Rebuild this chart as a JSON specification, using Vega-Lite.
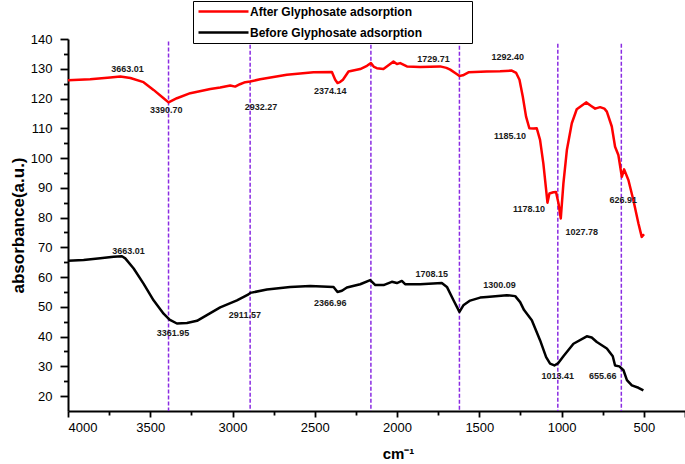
{
  "$schema": "https://vega.github.io/schema/vega-lite/v6.json",
  "width": 617,
  "height": 372,
  "autosize": {"type": "none"},
  "padding": {"left": 68, "top": 39, "right": 0, "bottom": 53},
  "background": "white",
  "config": {
    "view": {"stroke": null},
    "font": "Liberation Sans",
    "axis": {"grid": false, "domainColor": "black", "tickColor": "black", "labelColor": "black", "titleColor": "black", "labelFont": "Liberation Sans", "titleFont": "Liberation Sans"}
  },
  "datasets": {
    "spectra": [
      {"series": "After Glyphosate adsorption", "wn": 4000, "v": 126.1},
      {"series": "After Glyphosate adsorption", "wn": 3865, "v": 126.5},
      {"series": "After Glyphosate adsorption", "wn": 3743, "v": 127.1},
      {"series": "After Glyphosate adsorption", "wn": 3682, "v": 127.4},
      {"series": "After Glyphosate adsorption", "wn": 3621, "v": 126.9},
      {"series": "After Glyphosate adsorption", "wn": 3541, "v": 125.5},
      {"series": "After Glyphosate adsorption", "wn": 3480, "v": 122.9},
      {"series": "After Glyphosate adsorption", "wn": 3419, "v": 120.1},
      {"series": "After Glyphosate adsorption", "wn": 3389, "v": 118.7},
      {"series": "After Glyphosate adsorption", "wn": 3338, "v": 120.1},
      {"series": "After Glyphosate adsorption", "wn": 3257, "v": 121.8},
      {"series": "After Glyphosate adsorption", "wn": 3135, "v": 123.2},
      {"series": "After Glyphosate adsorption", "wn": 3075, "v": 123.7},
      {"series": "After Glyphosate adsorption", "wn": 3014, "v": 124.4},
      {"series": "After Glyphosate adsorption", "wn": 2984, "v": 124.0},
      {"series": "After Glyphosate adsorption", "wn": 2955, "v": 124.8},
      {"series": "After Glyphosate adsorption", "wn": 2923, "v": 125.5},
      {"series": "After Glyphosate adsorption", "wn": 2893, "v": 125.7},
      {"series": "After Glyphosate adsorption", "wn": 2832, "v": 126.5},
      {"series": "After Glyphosate adsorption", "wn": 2670, "v": 128.0},
      {"series": "After Glyphosate adsorption", "wn": 2508, "v": 128.8},
      {"series": "After Glyphosate adsorption", "wn": 2396, "v": 128.9},
      {"series": "After Glyphosate adsorption", "wn": 2376, "v": 126.3},
      {"series": "After Glyphosate adsorption", "wn": 2362, "v": 125.2},
      {"series": "After Glyphosate adsorption", "wn": 2345, "v": 125.6},
      {"series": "After Glyphosate adsorption", "wn": 2329, "v": 126.3},
      {"series": "After Glyphosate adsorption", "wn": 2295, "v": 129.1},
      {"series": "After Glyphosate adsorption", "wn": 2224, "v": 129.9},
      {"series": "After Glyphosate adsorption", "wn": 2183, "v": 131.0},
      {"series": "After Glyphosate adsorption", "wn": 2159, "v": 131.9},
      {"series": "After Glyphosate adsorption", "wn": 2140, "v": 130.6},
      {"series": "After Glyphosate adsorption", "wn": 2123, "v": 130.2},
      {"series": "After Glyphosate adsorption", "wn": 2083, "v": 129.9},
      {"series": "After Glyphosate adsorption", "wn": 2042, "v": 131.6},
      {"series": "After Glyphosate adsorption", "wn": 2022, "v": 132.4},
      {"series": "After Glyphosate adsorption", "wn": 2001, "v": 131.6},
      {"series": "After Glyphosate adsorption", "wn": 1981, "v": 131.9},
      {"series": "After Glyphosate adsorption", "wn": 1940, "v": 130.8},
      {"series": "After Glyphosate adsorption", "wn": 1860, "v": 130.6},
      {"series": "After Glyphosate adsorption", "wn": 1738, "v": 130.8},
      {"series": "After Glyphosate adsorption", "wn": 1700, "v": 130.3},
      {"series": "After Glyphosate adsorption", "wn": 1677, "v": 129.7},
      {"series": "After Glyphosate adsorption", "wn": 1640, "v": 128.3},
      {"series": "After Glyphosate adsorption", "wn": 1621, "v": 127.6},
      {"series": "After Glyphosate adsorption", "wn": 1600, "v": 127.8},
      {"series": "After Glyphosate adsorption", "wn": 1566, "v": 128.8},
      {"series": "After Glyphosate adsorption", "wn": 1455, "v": 129.1},
      {"series": "After Glyphosate adsorption", "wn": 1374, "v": 129.2},
      {"series": "After Glyphosate adsorption", "wn": 1303, "v": 129.4},
      {"series": "After Glyphosate adsorption", "wn": 1276, "v": 128.6},
      {"series": "After Glyphosate adsorption", "wn": 1256, "v": 126.3},
      {"series": "After Glyphosate adsorption", "wn": 1236, "v": 120.7},
      {"series": "After Glyphosate adsorption", "wn": 1216, "v": 113.9},
      {"series": "After Glyphosate adsorption", "wn": 1196, "v": 110.0},
      {"series": "After Glyphosate adsorption", "wn": 1171, "v": 109.9},
      {"series": "After Glyphosate adsorption", "wn": 1151, "v": 110.0},
      {"series": "After Glyphosate adsorption", "wn": 1131, "v": 106.1},
      {"series": "After Glyphosate adsorption", "wn": 1111, "v": 98.2},
      {"series": "After Glyphosate adsorption", "wn": 1094, "v": 89.3},
      {"series": "After Glyphosate adsorption", "wn": 1086, "v": 85.0},
      {"series": "After Glyphosate adsorption", "wn": 1074, "v": 88.1},
      {"series": "After Glyphosate adsorption", "wn": 1050, "v": 88.5},
      {"series": "After Glyphosate adsorption", "wn": 1034, "v": 88.6},
      {"series": "After Glyphosate adsorption", "wn": 1019, "v": 84.8},
      {"series": "After Glyphosate adsorption", "wn": 1005, "v": 79.7},
      {"series": "After Glyphosate adsorption", "wn": 989, "v": 91.5},
      {"series": "After Glyphosate adsorption", "wn": 968, "v": 102.7},
      {"series": "After Glyphosate adsorption", "wn": 938, "v": 111.7},
      {"series": "After Glyphosate adsorption", "wn": 908, "v": 116.4},
      {"series": "After Glyphosate adsorption", "wn": 851, "v": 118.7},
      {"series": "After Glyphosate adsorption", "wn": 820, "v": 117.5},
      {"series": "After Glyphosate adsorption", "wn": 796, "v": 116.6},
      {"series": "After Glyphosate adsorption", "wn": 766, "v": 117.1},
      {"series": "After Glyphosate adsorption", "wn": 740, "v": 116.6},
      {"series": "After Glyphosate adsorption", "wn": 725, "v": 115.6},
      {"series": "After Glyphosate adsorption", "wn": 695, "v": 110.6},
      {"series": "After Glyphosate adsorption", "wn": 675, "v": 103.8},
      {"series": "After Glyphosate adsorption", "wn": 655, "v": 101.0},
      {"series": "After Glyphosate adsorption", "wn": 634, "v": 93.7},
      {"series": "After Glyphosate adsorption", "wn": 620, "v": 96.2},
      {"series": "After Glyphosate adsorption", "wn": 594, "v": 92.6},
      {"series": "After Glyphosate adsorption", "wn": 564, "v": 85.9},
      {"series": "After Glyphosate adsorption", "wn": 533, "v": 78.0},
      {"series": "After Glyphosate adsorption", "wn": 513, "v": 73.5},
      {"series": "After Glyphosate adsorption", "wn": 499, "v": 74.4},
      {"series": "Before Glyphosate adsorption", "wn": 4000, "v": 65.5},
      {"series": "Before Glyphosate adsorption", "wn": 3905, "v": 65.7},
      {"series": "Before Glyphosate adsorption", "wn": 3804, "v": 66.3},
      {"series": "Before Glyphosate adsorption", "wn": 3723, "v": 66.8},
      {"series": "Before Glyphosate adsorption", "wn": 3672, "v": 67.0},
      {"series": "Before Glyphosate adsorption", "wn": 3652, "v": 66.3},
      {"series": "Before Glyphosate adsorption", "wn": 3601, "v": 62.9},
      {"series": "Before Glyphosate adsorption", "wn": 3541, "v": 57.8},
      {"series": "Before Glyphosate adsorption", "wn": 3480, "v": 52.2},
      {"series": "Before Glyphosate adsorption", "wn": 3419, "v": 47.7},
      {"series": "Before Glyphosate adsorption", "wn": 3383, "v": 45.7},
      {"series": "Before Glyphosate adsorption", "wn": 3338, "v": 44.4},
      {"series": "Before Glyphosate adsorption", "wn": 3277, "v": 44.6},
      {"series": "Before Glyphosate adsorption", "wn": 3216, "v": 45.3},
      {"series": "Before Glyphosate adsorption", "wn": 3156, "v": 47.2},
      {"series": "Before Glyphosate adsorption", "wn": 3075, "v": 49.8},
      {"series": "Before Glyphosate adsorption", "wn": 2973, "v": 52.2},
      {"series": "Before Glyphosate adsorption", "wn": 2903, "v": 54.2},
      {"series": "Before Glyphosate adsorption", "wn": 2892, "v": 54.7},
      {"series": "Before Glyphosate adsorption", "wn": 2791, "v": 55.8},
      {"series": "Before Glyphosate adsorption", "wn": 2650, "v": 56.7},
      {"series": "Before Glyphosate adsorption", "wn": 2528, "v": 57.0},
      {"series": "Before Glyphosate adsorption", "wn": 2386, "v": 56.7},
      {"series": "Before Glyphosate adsorption", "wn": 2362, "v": 55.0},
      {"series": "Before Glyphosate adsorption", "wn": 2335, "v": 55.4},
      {"series": "Before Glyphosate adsorption", "wn": 2305, "v": 56.5},
      {"series": "Before Glyphosate adsorption", "wn": 2224, "v": 57.6},
      {"series": "Before Glyphosate adsorption", "wn": 2163, "v": 59.0},
      {"series": "Before Glyphosate adsorption", "wn": 2132, "v": 57.3},
      {"series": "Before Glyphosate adsorption", "wn": 2082, "v": 57.3},
      {"series": "Before Glyphosate adsorption", "wn": 2032, "v": 58.4},
      {"series": "Before Glyphosate adsorption", "wn": 2001, "v": 58.0},
      {"series": "Before Glyphosate adsorption", "wn": 1971, "v": 58.7},
      {"series": "Before Glyphosate adsorption", "wn": 1951, "v": 57.6},
      {"series": "Before Glyphosate adsorption", "wn": 1860, "v": 57.6},
      {"series": "Before Glyphosate adsorption", "wn": 1728, "v": 58.0},
      {"series": "Before Glyphosate adsorption", "wn": 1697, "v": 56.7},
      {"series": "Before Glyphosate adsorption", "wn": 1657, "v": 52.2},
      {"series": "Before Glyphosate adsorption", "wn": 1621, "v": 48.3},
      {"series": "Before Glyphosate adsorption", "wn": 1597, "v": 50.5},
      {"series": "Before Glyphosate adsorption", "wn": 1556, "v": 52.1},
      {"series": "Before Glyphosate adsorption", "wn": 1495, "v": 53.1},
      {"series": "Before Glyphosate adsorption", "wn": 1455, "v": 53.3},
      {"series": "Before Glyphosate adsorption", "wn": 1333, "v": 53.9},
      {"series": "Before Glyphosate adsorption", "wn": 1282, "v": 53.6},
      {"series": "Before Glyphosate adsorption", "wn": 1252, "v": 51.6},
      {"series": "Before Glyphosate adsorption", "wn": 1228, "v": 48.9},
      {"series": "Before Glyphosate adsorption", "wn": 1181, "v": 45.5},
      {"series": "Before Glyphosate adsorption", "wn": 1131, "v": 38.8},
      {"series": "Before Glyphosate adsorption", "wn": 1094, "v": 33.1},
      {"series": "Before Glyphosate adsorption", "wn": 1070, "v": 30.9},
      {"series": "Before Glyphosate adsorption", "wn": 1044, "v": 30.3},
      {"series": "Before Glyphosate adsorption", "wn": 1020, "v": 31.1},
      {"series": "Before Glyphosate adsorption", "wn": 989, "v": 33.4},
      {"series": "Before Glyphosate adsorption", "wn": 928, "v": 37.6},
      {"series": "Before Glyphosate adsorption", "wn": 847, "v": 40.1},
      {"series": "Before Glyphosate adsorption", "wn": 817, "v": 39.7},
      {"series": "Before Glyphosate adsorption", "wn": 786, "v": 38.2},
      {"series": "Before Glyphosate adsorption", "wn": 725, "v": 36.0},
      {"series": "Before Glyphosate adsorption", "wn": 689, "v": 33.4},
      {"series": "Before Glyphosate adsorption", "wn": 675, "v": 30.3},
      {"series": "Before Glyphosate adsorption", "wn": 649, "v": 30.0},
      {"series": "Before Glyphosate adsorption", "wn": 624, "v": 28.7},
      {"series": "Before Glyphosate adsorption", "wn": 603, "v": 25.4},
      {"series": "Before Glyphosate adsorption", "wn": 573, "v": 23.6},
      {"series": "Before Glyphosate adsorption", "wn": 533, "v": 22.8},
      {"series": "Before Glyphosate adsorption", "wn": 503, "v": 21.9}
    ],
    "markers": [
      {"wn": 3389, "top": 139.2, "bottom": 15},
      {"wn": 2893, "top": 142.1, "bottom": 15},
      {"wn": 2159, "top": 142.1, "bottom": 15},
      {"wn": 1621, "top": 137.7, "bottom": 15},
      {"wn": 1023, "top": 138.4, "bottom": 15},
      {"wn": 637, "top": 138.4, "bottom": 15}
    ],
    "labels": [
      {"label": "3663.01", "wn": 3638, "v": 130.0},
      {"label": "3390.70", "wn": 3403, "v": 116.1},
      {"label": "2932.27", "wn": 2827, "v": 117.3},
      {"label": "2374.14", "wn": 2406, "v": 122.4},
      {"label": "1729.71", "wn": 1779, "v": 133.3},
      {"label": "1292.40", "wn": 1327, "v": 133.9},
      {"label": "1185.10", "wn": 1313, "v": 107.4},
      {"label": "1178.10", "wn": 1198, "v": 82.9},
      {"label": "1027.78", "wn": 877, "v": 75.0},
      {"label": "626.91", "wn": 625, "v": 85.9},
      {"label": "3663.01", "wn": 3632, "v": 68.8},
      {"label": "3361.95", "wn": 3362, "v": 41.3},
      {"label": "2911.57", "wn": 2925, "v": 47.2},
      {"label": "2366.96", "wn": 2406, "v": 51.4},
      {"label": "1708.15", "wn": 1789, "v": 60.9},
      {"label": "1300.09", "wn": 1378, "v": 57.3},
      {"label": "1013.41", "wn": 1023, "v": 26.6},
      {"label": "655.66", "wn": 750, "v": 26.8}
    ]
  },
  "layer": [
    {
      "data": {"name": "markers"},
      "mark": {"type": "rule", "color": "#8a2be2", "strokeWidth": 1.5, "strokeDash": [4, 2]},
      "encoding": {
        "x": {"field": "wn", "type": "quantitative", "scale": {"domain": [4000, 250], "nice": false, "zero": false},
          "axis": {"orient": "bottom", "values": [3750, 3250, 2750, 2250, 1750, 1250, 750], "labels": false, "domain": false, "tickSize": 4, "tickWidth": 1.8, "title": null}},
        "y": {"field": "top", "type": "quantitative", "scale": {"domain": [15, 140], "nice": false, "zero": false},
          "axis": {"orient": "left", "values": [25, 35, 45, 55, 65, 75, 85, 95, 105, 115, 125, 135], "labels": false, "domain": false, "tickSize": 4.5, "tickWidth": 1.8, "title": null}},
        "y2": {"field": "bottom"}
      }
    },
    {
      "data": {"name": "spectra"},
      "mark": {"type": "line", "strokeWidth": 2.5, "strokeJoin": "round"},
      "encoding": {
        "x": {"field": "wn", "type": "quantitative",
          "axis": {"orient": "bottom", "values": [4000, 3500, 3000, 2500, 2000, 1500, 1000, 500, 250], "labelExpr": "datum.value == 250 ? '' : datum.label", "format": "d",
            "domainWidth": 2, "tickWidth": 1.8, "tickSize": 6, "labelFontSize": 13, "labelPadding": 4,
            "title": "cm⁻¹", "titleFontSize": 15, "titleFontWeight": "bold", "titleX": 330, "titleY": 47, "titleBaseline": "alphabetic", "titleAlign": "center"}},
        "y": {"field": "v", "type": "quantitative",
          "axis": {"orient": "left", "values": [20, 30, 40, 50, 60, 70, 80, 90, 100, 110, 120, 130, 140],
            "domainWidth": 2, "tickWidth": 1.8, "tickSize": 8, "labelFontSize": 13, "labelPadding": 8,
            "title": "absorbance(a.u.)", "titleFontSize": 17, "titleFontWeight": "bold", "titlePadding": 3}},
        "color": {"field": "series", "type": "nominal",
          "scale": {"domain": ["After Glyphosate adsorption", "Before Glyphosate adsorption"], "range": ["#ff0000", "#000000"]},
          "legend": {"title": null, "orient": "none", "legendX": 125, "legendY": -38, "direction": "vertical",
            "symbolType": "M-1,0H9", "symbolSize": 100, "symbolStrokeWidth": 2.5, "labelOffset": 40,
            "labelFontSize": 12, "labelFontWeight": "bold", "labelColor": "black", "labelLimit": 400,
            "labelExpr": "datum.label + '\u2800\u2800\u2800\u2800\u2800'",
            "rowPadding": 8, "padding": 4, "strokeColor": "black", "fillColor": "white", "cornerRadius": 0}},
        "detail": {"field": "series"}
      }
    },
    {
      "data": {"name": "labels"},
      "mark": {"type": "text", "fontSize": 9, "fontWeight": "bold", "color": "#1a1a1a", "align": "center", "baseline": "middle"},
      "encoding": {
        "x": {"field": "wn", "type": "quantitative", "axis": null},
        "y": {"field": "v", "type": "quantitative", "axis": null},
        "text": {"field": "label"}
      }
    }
  ],
  "resolve": {"axis": {"x": "independent", "y": "independent"}}
}
